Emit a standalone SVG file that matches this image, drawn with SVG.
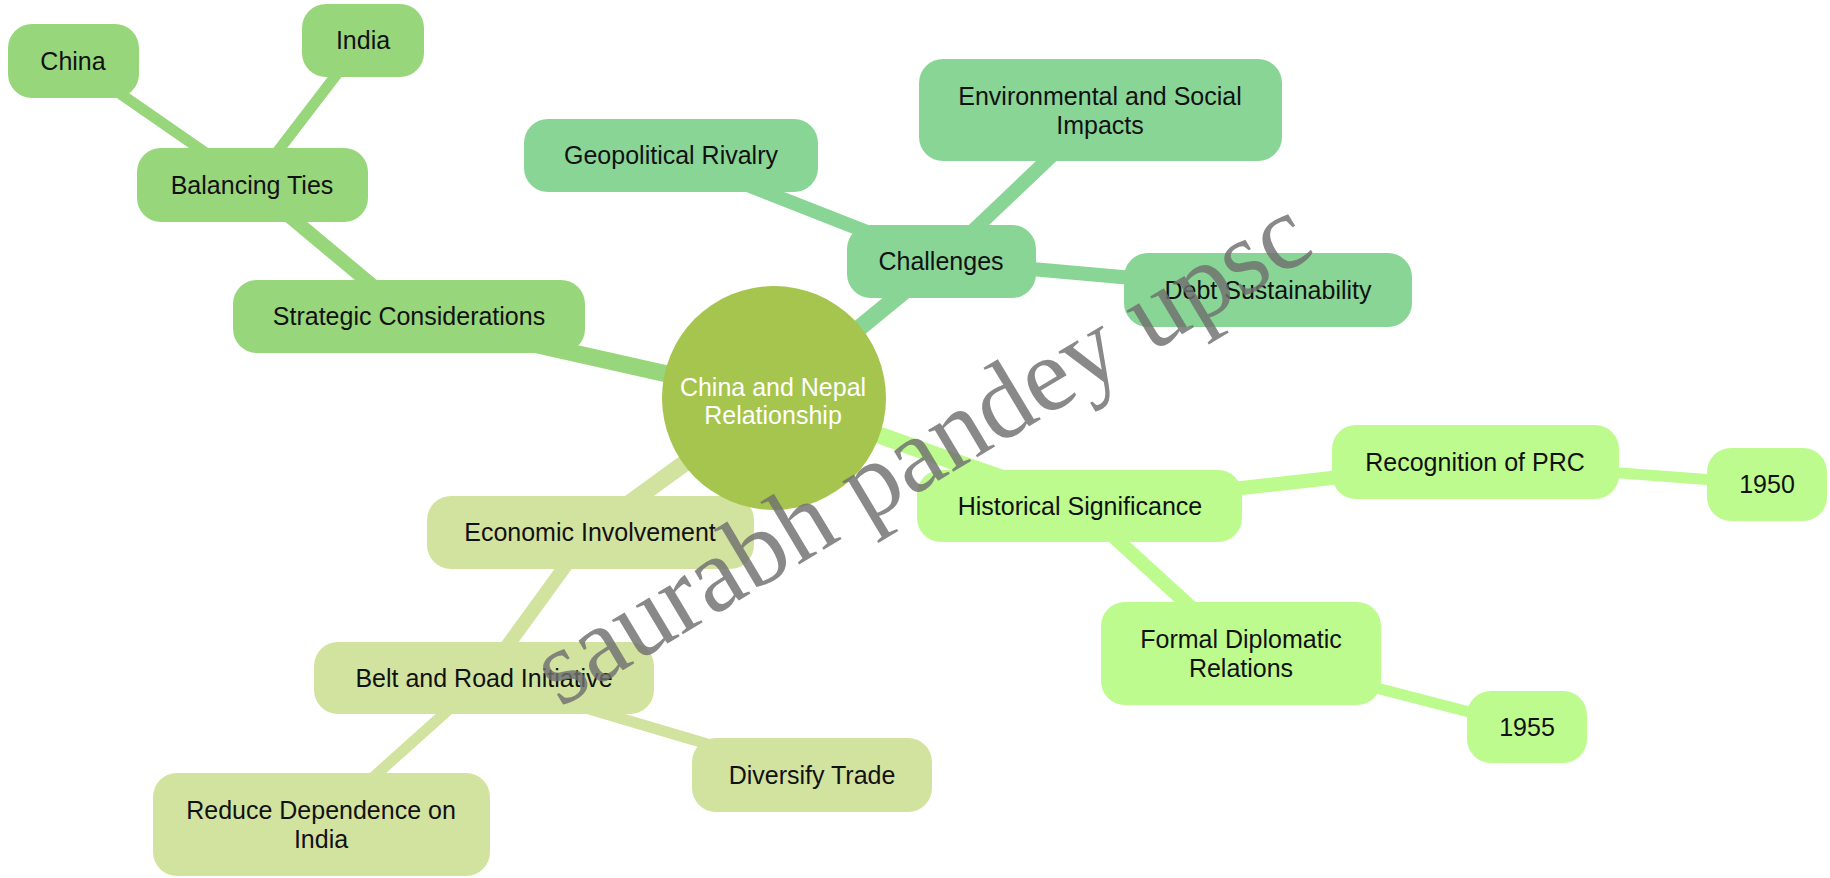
<svg xmlns="http://www.w3.org/2000/svg" width="1830" height="878" viewBox="0 0 1830 878">
<style>
  text { font-family: "Liberation Sans", Arial, sans-serif; font-size: 25px; fill: #111; text-anchor: middle; dominant-baseline: central; }
  .e0 { stroke-width: 17; stroke-linecap: round; fill: none; }
  .e1 { stroke-width: 14; stroke-linecap: round; fill: none; }
  .e2 { stroke-width: 11; stroke-linecap: round; fill: none; }
  .s1 { fill: #98d67b; } .s1l { stroke: #98d67b; }
  .s2 { fill: #89d596; } .s2l { stroke: #89d596; }
  .s3 { fill: #bdfb8e; } .s3l { stroke: #bdfb8e; }
  .s4 { fill: #d2e3a0; } .s4l { stroke: #d2e3a0; }
  .wm { font-family: "Liberation Serif", "Times New Roman", serif; font-size: 106px; fill: #707070; opacity: 0.82; text-anchor: start; dominant-baseline: alphabetic; }
</style>
<rect width="1830" height="878" fill="#ffffff"/>
<g id="connectors">
  <line class="e0 s1l" x1="774" y1="398" x2="409" y2="316"/>
  <line class="e0 s2l" x1="774" y1="398" x2="941" y2="261"/>
  <line class="e0 s3l" x1="774" y1="398" x2="1080" y2="506"/>
  <line class="e0 s4l" x1="774" y1="398" x2="590" y2="532"/>
  <line class="e1 s1l" x1="409" y1="316" x2="252" y2="185"/>
  <line class="e1 s2l" x1="941" y1="261" x2="671" y2="155"/>
  <line class="e1 s2l" x1="941" y1="261" x2="1100" y2="110"/>
  <line class="e1 s2l" x1="941" y1="261" x2="1268" y2="290"/>
  <line class="e1 s3l" x1="1080" y1="506" x2="1475" y2="462"/>
  <line class="e1 s3l" x1="1080" y1="506" x2="1241" y2="653"/>
  <line class="e1 s4l" x1="590" y1="532" x2="484" y2="678"/>
  <line class="e2 s1l" x1="252" y1="185" x2="73" y2="61"/>
  <line class="e2 s1l" x1="252" y1="185" x2="363" y2="40"/>
  <line class="e2 s3l" x1="1475" y1="462" x2="1767" y2="484"/>
  <line class="e2 s3l" x1="1241" y1="653" x2="1527" y2="727"/>
  <line class="e2 s4l" x1="484" y1="678" x2="812" y2="775"/>
  <line class="e2 s4l" x1="484" y1="678" x2="321" y2="824"/>
</g>
<g id="strategic"><rect class="s1" x="233" y="280" width="352" height="73" rx="24"/><text x="409" y="316">Strategic Considerations</text></g>
<g id="balancing"><rect class="s1" x="137" y="148" width="231" height="74" rx="24"/><text x="252" y="185">Balancing Ties</text></g>
<g id="china"><rect class="s1" x="8" y="24" width="131" height="74" rx="24"/><text x="73" y="61">China</text></g>
<g id="india"><rect class="s1" x="302" y="4" width="122" height="73" rx="24"/><text x="363" y="40">India</text></g>
<g id="challenges"><rect class="s2" x="847" y="225" width="189" height="73" rx="24"/><text x="941" y="261">Challenges</text></g>
<g id="geopolitical"><rect class="s2" x="524" y="119" width="294" height="73" rx="24"/><text x="671" y="155">Geopolitical Rivalry</text></g>
<g id="environmental"><rect class="s2" x="919" y="59" width="363" height="102" rx="24"/><text x="1100" y="96">Environmental and Social</text><text x="1100" y="125">Impacts</text></g>
<g id="debt"><rect class="s2" x="1124" y="253" width="288" height="74" rx="24"/><text x="1268" y="290">Debt Sustainability</text></g>
<g id="historical"><rect class="s3" x="917" y="470" width="325" height="72" rx="24"/><text x="1080" y="506">Historical Significance</text></g>
<g id="recognition"><rect class="s3" x="1332" y="425" width="287" height="74" rx="24"/><text x="1475" y="462">Recognition of PRC</text></g>
<g id="y1950"><rect class="s3" x="1707" y="448" width="120" height="73" rx="24"/><text x="1767" y="484">1950</text></g>
<g id="formal"><rect class="s3" x="1101" y="602" width="280" height="103" rx="24"/><text x="1241" y="639">Formal Diplomatic</text><text x="1241" y="668">Relations</text></g>
<g id="y1955"><rect class="s3" x="1467" y="691" width="120" height="72" rx="24"/><text x="1527" y="727">1955</text></g>
<g id="economic"><rect class="s4" x="427" y="496" width="327" height="73" rx="24"/><text x="590" y="532">Economic Involvement</text></g>
<g id="belt"><rect class="s4" x="314" y="642" width="340" height="72" rx="24"/><text x="484" y="678">Belt and Road Initiative</text></g>
<g id="diversify"><rect class="s4" x="692" y="738" width="240" height="74" rx="24"/><text x="812" y="775">Diversify Trade</text></g>
<g id="reduce"><rect class="s4" x="153" y="773" width="337" height="103" rx="24"/><text x="321" y="810">Reduce Dependence on</text><text x="321" y="839">India</text></g>
<g id="root"><circle cx="774" cy="398" r="112" fill="#a6c54e"/><text x="773" y="387" style="fill:#ffffff">China and Nepal</text><text x="773" y="415" style="fill:#ffffff">Relationship</text></g>
<text class="wm" transform="translate(560,708) rotate(-31)">saurabh pandey upsc</text>
</svg>
